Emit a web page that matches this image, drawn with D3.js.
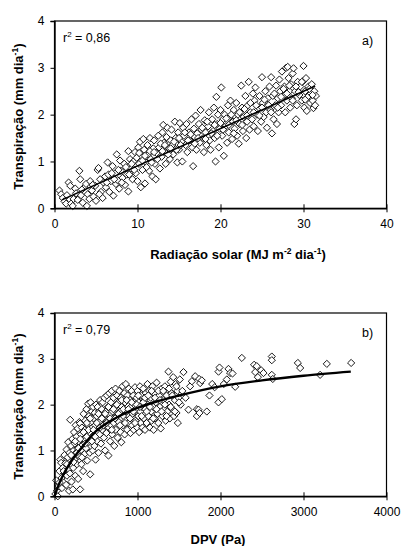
<!DOCTYPE html>
<html><head><meta charset="utf-8">
<script src="https://cdn.jsdelivr.net/npm/d3@7"></script>
<style>body{margin:0;background:#fff}svg{display:block}text{font-family:"Liberation Sans",Arial,sans-serif}</style>
</head><body>
<svg id="c" width="403" height="546"></svg>
<script>
// ---- Chart a: Radiação solar vs Transpiração
const pointsA = [
[0.6,0.38],[0.8,0.3],[1.0,0.22],[1.2,0.15],[1.4,0.1],[1.7,0.55],[1.9,0.48],[1.5,0.28],[2.0,0.1],[2.2,0.05],[2.3,0.2],[2.5,0.42],[2.6,0.32],[2.8,0.18],
[3.0,0.8],[3.1,0.62],[3.2,0.28],[3.4,0.12],[3.6,0.45],[3.8,0.52],[3.9,0.05],[4.0,0.3],[4.2,0.2],[4.3,0.58],[4.5,0.38],[4.7,0.25],[4.9,0.48],[5.0,0.16],[5.2,0.82],[5.3,0.86],[5.5,0.62],[5.6,0.35],[5.8,0.22],[5.9,0.55],
[6.1,0.68],[6.2,0.45],[6.4,0.98],[6.5,0.72],[6.6,0.35],[6.8,0.58],[7.0,0.9],[7.1,0.27],[7.3,0.75],[7.4,0.52],[7.5,1.15],[7.6,0.6],[7.8,0.42],[7.9,1.02],[8.0,0.8],[8.2,0.65],[8.4,0.95],[8.5,0.5],[8.7,0.72],[8.9,0.36],[8.9,1.22],[9.1,1.05],
[9.2,0.85],[9.4,0.62],[9.5,1.0],[9.7,1.2],[9.8,0.75],[10.0,0.58],[10.1,1.3],[10.2,0.95],[10.3,1.42],[10.4,0.45],[10.5,1.1],[10.6,0.82],[10.7,1.48],[10.8,1.25],[10.9,0.53],[11.0,0.98],[11.2,1.35],[11.3,1.15],[11.4,0.8],[11.5,1.5],[11.6,1.05],[11.8,0.68],[11.9,1.28],
[12.0,1.45],[12.1,0.95],[12.2,0.62],[12.3,1.18],[12.5,1.55],[12.6,1.3],[12.7,0.85],[12.9,1.1],[13.0,1.62],[13.1,1.78],[13.2,1.4],[13.3,1.2],[13.4,0.95],[13.5,1.52],[13.6,1.72],[13.8,1.28],[13.9,1.05],[14.0,1.45],[14.1,1.68],[14.2,1.35],[14.3,1.15],[14.5,1.85],[14.6,1.5],[14.8,0.98],[14.9,1.62],
[15.0,1.25],[15.1,1.82],[15.3,1.42],[15.4,1.0],[15.5,1.72],[15.6,1.55],[15.8,1.35],[15.9,1.8],[16.0,1.2],[16.2,1.62],[16.3,1.45],[16.5,1.9],[16.6,1.3],[16.7,0.9],[16.8,1.7],[16.9,1.52],[17.0,1.98],[17.1,1.25],[17.2,1.6],[17.4,1.8],[17.5,1.4],[17.6,2.1],[17.7,1.68],[17.9,1.5],
[18.0,1.2],[18.1,1.88],[18.2,1.62],[18.3,1.35],[18.5,1.75],[18.6,2.05],[18.7,1.45],[18.8,1.25],[19.0,1.9],[19.1,1.65],[19.2,2.15],[19.3,1.5],[19.4,1.0],[19.5,2.38],[19.6,1.8],[19.7,2.0],[19.8,1.3],[19.9,1.7],[20.0,2.1],[20.1,2.58],[20.2,1.55],[20.3,1.9],[20.4,1.12],[20.5,2.0],[20.6,1.75],[20.8,1.4],[20.9,2.2],
[21.0,1.62],[21.1,1.95],[21.2,2.3],[21.4,1.48],[21.5,1.85],[21.6,2.1],[21.7,1.7],[21.9,2.25],[22.0,1.55],[22.1,2.0],[22.2,1.38],[22.3,1.8],[22.5,2.62],[22.6,2.15],[22.7,1.65],[22.8,1.95],[23.0,2.4],[23.1,1.5],[23.2,1.85],[23.3,2.2],[23.4,2.7],[23.5,1.68],[23.6,2.05],[23.8,1.9],[23.9,2.45],
[24.0,1.75],[24.1,2.3],[24.2,2.58],[24.4,2.0],[24.5,1.65],[24.6,2.15],[24.7,2.4],[24.9,1.85],[25.0,2.8],[25.1,2.25],[25.2,1.95],[25.4,2.5],[25.5,2.05],[25.6,1.72],[25.7,2.35],[25.9,2.6],[26.0,2.1],[26.1,2.8],[26.2,1.6],[26.3,2.4],[26.4,1.9],[26.6,2.2],[26.7,2.62],[26.8,1.8],[26.9,2.35],
[27.0,2.05],[27.1,2.75],[27.2,2.5],[27.3,2.2],[27.4,2.92],[27.6,2.4],[27.7,2.6],[27.8,2.05],[27.9,3.0],[28.0,2.3],[28.1,3.02],[28.2,2.78],[28.3,2.5],[28.4,2.15],[28.5,2.65],[28.6,2.35],[28.7,2.88],[28.8,2.99],[28.9,1.8],[29.0,2.5],[29.1,1.9],[29.2,2.2],[29.3,2.7],[29.5,2.42],[29.6,2.6],[29.8,2.3],
[30.0,3.04],[30.0,2.72],[30.1,2.15],[30.2,2.5],[30.3,2.78],[30.4,2.08],[30.5,2.38],[30.6,2.6],[30.8,2.25],[30.9,2.45],[31.0,2.65],[31.1,2.3],[31.2,2.14],[31.3,2.5],[31.5,2.4],[31.4,2.2],
[3.3,0.4],[4.6,0.5],[5.4,0.3],[6.3,0.55],[6.9,0.75],[7.2,0.62],[7.7,0.82],[8.1,0.55],[8.6,0.88],[9.0,0.72],[9.3,0.95],[9.6,0.82],[9.9,1.08],[10.2,1.18],[10.6,1.02],[10.9,1.12],[11.1,0.88],[11.5,1.22],[11.7,0.98],[12.0,1.2],[12.4,1.05],[12.8,1.38],[13.0,1.22],[13.3,1.35],[13.7,1.15],[14.0,1.28],[14.4,1.42],[14.7,1.25],[15.0,1.5],[15.2,1.35],[15.7,1.62],[16.1,1.45],[16.4,1.58],[16.9,1.38],[17.3,1.5],[17.8,1.72],[18.2,1.48],[18.4,1.85],[18.9,1.6],[19.3,1.78],[19.6,1.55],[20.0,1.82],[20.3,1.68],[20.7,1.92],[21.0,1.78],[21.3,2.0],[21.6,1.6],[21.9,1.88],[22.3,2.05],[22.6,1.78],[22.9,2.12],[23.2,1.98],[23.6,2.25],[24.0,2.05],[24.3,2.2],[24.7,1.98],[25.0,2.15],[25.3,2.32],[25.8,2.2],[26.1,2.05],[26.5,2.45],[26.9,2.15],[27.3,2.38],[27.6,2.55],[28.0,2.45],[28.3,2.62],[28.7,2.3],[29.1,2.6],[29.4,2.48],[29.8,2.7],[30.2,2.32],[30.7,2.55],[31.1,2.42]
];
const fitAx = [0.9, 31.4];
const fitAy = [0.18, 2.61];
const ticksAx = [0, 10, 20, 30, 40];
const ticksY = [0, 1, 2, 3, 4];

// ---- Chart b: DPV vs Transpiração
const pointsB = [
[10,0.05],[20,0.35],[30,0.12],[40,0.0],[50,0.22],[60,0.55],[70,0.8],[80,0.73],[85,0.4],[90,0.18],[100,0.62],[110,0.3],[120,0.9],[125,0.5],[130,0.72],[140,0.25],[145,1.02],[150,0.45],
[160,0.85],[165,1.18],[170,0.58],[175,0.12],[180,0.95],[189,1.67],[195,0.7],[200,1.1],[205,0.32],[210,0.88],[215,1.25],[221,0.15],[225,0.62],[230,1.0],[235,1.4],[240,0.8],[245,1.15],[250,0.45],[255,1.55],[260,0.95],[265,1.3],[270,0.7],[275,1.05],[280,1.48],[285,0.38],[290,1.2],[295,0.88],[300,1.62],[309,0.15],[309,1.59],
[315,1.0],[320,1.35],[325,0.7],[330,1.5],[340,1.12],[345,0.55],[350,1.8],[355,1.25],[360,0.92],[365,1.45],[370,1.65],[380,1.05],[385,1.9],[390,1.3],[395,0.78],[400,1.55],[405,2.02],[410,1.18],[415,1.75],[420,1.4],[425,0.95],[430,0.48],[435,2.05],[440,1.6],[445,1.25],[450,1.85],[455,1.5],[460,1.0],[465,1.95],[470,1.7],[475,1.3],[480,1.1],[485,1.82],[490,1.55],[495,0.8],[500,2.0],
[505,1.4],[510,1.75],[515,1.2],[520,1.95],[525,1.58],[530,0.95],[540,1.85],[545,1.35],[550,2.1],[555,1.65],[560,1.15],[570,1.9],[575,1.45],[580,2.05],[590,1.75],[595,1.28],[600,2.15],[605,1.55],[610,1.0],[620,1.85],[625,1.38],[630,2.2],[640,1.65],[645,1.95],[650,0.89],[655,1.5],[660,2.25],[665,1.78],[670,1.2],[680,2.05],[685,1.55],[690,2.3],[695,1.35],[700,1.85],
[710,2.15],[715,1.6],[720,1.1],[730,1.95],[735,2.35],[740,1.45],[750,1.75],[755,2.2],[760,1.28],[770,2.05],[775,1.62],[780,2.3],[790,1.85],[795,1.4],[800,2.15],[805,1.18],[810,1.95],[820,2.4],[825,1.55],[830,1.75],[840,2.25],[845,1.35],[850,2.05],[855,1.65],[860,2.45],[870,1.85],[875,1.45],[880,2.2],[890,1.6],[895,2.35],[900,1.75],
[910,2.1],[915,1.38],[920,1.95],[930,2.3],[935,1.55],[940,1.8],[950,2.2],[955,1.45],[960,2.0],[970,2.38],[975,1.65],[980,1.9],[990,2.15],[995,1.5],[1000,2.3],[1010,1.75],[1015,2.05],[1020,1.4],[1030,2.4],[1035,1.85],[1040,1.6],[1050,2.2],[1055,1.95],[1060,1.5],[1070,2.35],[1075,1.7],[1080,2.1],[1090,1.45],[1095,1.9],[1100,2.25],
[1110,1.6],[1120,2.45],[1125,2.0],[1130,1.75],[1140,2.3],[1150,1.5],[1160,2.15],[1165,1.85],[1170,1.65],[1180,2.4],[1190,1.95],[1195,1.45],[1200,2.25],[1210,1.7],[1220,2.05],[1230,2.48],[1240,1.8],[1250,1.6],[1260,2.2],[1270,1.95],[1280,1.48],[1290,2.35],[1300,1.75],
[1310,2.1],[1320,1.9],[1330,2.4],[1340,1.65],[1350,2.2],[1360,1.85],[1373,2.72],[1380,2.0],[1390,1.7],[1400,2.5],[1410,2.25],[1420,1.9],[1430,2.6],[1440,1.75],[1450,2.1],[1460,2.45],[1470,1.82],[1480,2.3],[1486,1.6],[1495,2.15],[1510,2.55],[1520,2.0],[1540,2.3],[1554,2.71],
[1580,2.15],[1614,1.89],[1634,2.4],[1655,2.51],[1695,2.62],[1715,1.75],[1715,1.9],[1735,1.89],[1743,2.56],[1747,1.82],[1755,2.47],[1775,2.53],[1835,1.85],[1867,2.2],[1900,2.45],[1930,2.38],[1976,2.05],[1976,2.72],[1988,2.81],[2016,2.12],[2040,2.45],[2076,2.55],[2096,2.78],[2116,2.69],[2145,2.68],[2177,2.39],[2257,3.02],[2405,2.87],[2418,2.71],[2437,2.84],[2450,2.6],[2490,2.75],[2518,2.69],[2618,3.05],[2618,2.97],[2618,2.65],[2630,2.56],[2932,2.91],[2960,2.80],[3200,2.65],[3281,2.89],[3574,2.91],
[60,0.3],[110,0.55],[150,0.7],[185,0.5],[200,0.9],[230,0.75],[250,1.2],[270,0.95],[290,1.05],[310,1.25],[330,0.85],[350,1.4],[370,1.15],[390,1.6],[410,1.45],[430,1.7],[450,1.2],[470,1.45],[490,1.3],[510,1.6],[530,1.8],[550,1.5],[570,1.7],[590,1.55],[610,1.8],[630,1.6],[650,1.95],[670,1.7],[690,1.45],[710,1.9],[730,1.7],[750,2.0],[770,1.8],[790,1.55],[810,2.1],[830,1.9],[850,1.6],[870,2.1],[890,1.9],[910,1.7],[930,2.05],[950,1.85],[970,1.6],[990,2.0],[1010,2.2],[1030,1.95],[1050,1.75],[1070,2.05],[1090,2.15],[1110,1.85],[1130,2.2],[1150,1.95],[1170,2.3],[1190,1.7],[1210,2.15],[1230,1.9],[1250,2.3],[1270,2.1],[1290,1.85],[1310,2.3],[1330,2.0],[1350,1.75],[1380,2.35],[1400,1.95],[1420,2.2],[1450,1.85],[1470,2.4],[1500,2.05]
];
const fitBx = [0, 50, 100, 200, 300, 500, 750, 1000, 1250, 1500, 2000, 2500, 3000, 3570];
const fitBy = [0, 0.25, 0.45, 0.76, 1.0, 1.42, 1.72, 1.93, 2.08, 2.2, 2.4, 2.53, 2.63, 2.72];
const ticksBx = [0, 1000, 2000, 3000, 4000];

const svg = d3.select("#c");
const diamond = "M0,-3.6L3.6,0L0,3.6L-3.6,0Z";

function panel(cfg) {
  const x = d3.scaleLinear().domain(cfg.xDomain).range([54.5, 386.5]);
  const y = d3.scaleLinear().domain([0, 4]).range([cfg.y0, cfg.y1]);
  const g = svg.append("g");
  g.append("rect").attr("x", x.range()[0]).attr("y", cfg.y1)
    .attr("width", x.range()[1] - x.range()[0]).attr("height", cfg.y0 - cfg.y1)
    .attr("fill", "none").attr("stroke", "#000").attr("stroke-width", 1.2);
  g.append("g").selectAll("path").data(cfg.points).join("path")
    .attr("d", diamond)
    .attr("transform", d => `translate(${x(d[0])},${y(d[1])})`)
    .attr("fill", "#fff").attr("stroke", "#000").attr("stroke-width", 0.9);
  const line = d3.line().x(d => x(d[0])).y(d => y(d[1])).curve(d3.curveMonotoneX);
  g.append("path").datum(d3.zip(cfg.fitX, cfg.fitY)).attr("d", line)
    .attr("fill", "none").attr("stroke", "#000").attr("stroke-width", cfg.fitW);
  const ya = g.append("g").attr("transform", `translate(${x.range()[0]},0)`)
    .call(d3.axisLeft(y).tickValues(ticksY).tickSize(4).tickPadding(6).tickFormat(d3.format("d")));
  const xa = g.append("g").attr("transform", `translate(0,${cfg.y0})`)
    .call(d3.axisBottom(x).tickValues(cfg.xTicks).tickSizeInner(4).tickSizeOuter(0).tickPadding(7).tickFormat(d3.format("d")));
  xa.selectAll(".tick line").attr("y1", -4);
  [ya, xa].forEach(a => {
    a.select(".domain").attr("stroke", "#000").attr("stroke-width", 1.4);
    a.selectAll(".tick line").attr("stroke", "#000").attr("stroke-width", 1);
    a.selectAll("text").attr("font-size", 12).attr("fill", "#000")
      .style("font-family", '"Liberation Sans",Arial,sans-serif');
  });
  const r = g.append("text").attr("x", 63).attr("y", cfg.y1 + 21).attr("font-size", 12.5);
  r.append("tspan").text("r");
  r.append("tspan").attr("font-size", 8).attr("dy", -5).text("2");
  r.append("tspan").attr("dy", 5).text(" = " + cfg.r2);
  g.append("text").attr("x", 362).attr("y", cfg.y1 + 24).attr("font-size", 12.5).text(cfg.tag);
  const yt = g.append("text").attr("transform", `translate(23,${(cfg.y0 + cfg.y1) / 2 + 2}) rotate(-90)`)
    .attr("text-anchor", "middle").attr("font-size", 13).attr("font-weight", "bold");
  yt.append("tspan").text("Transpiração (mm dia");
  yt.append("tspan").attr("font-size", 8.5).attr("dy", -5).text("-1");
  yt.append("tspan").attr("dy", 5).text(")");
  const xt = g.append("text").attr("x", cfg.xTitleX).attr("y", cfg.xTitleY)
    .attr("text-anchor", "middle").attr("font-size", 13).attr("font-weight", "bold");
  cfg.xTitle.forEach(p => {
    const t = xt.append("tspan").text(p.t);
    if (p.sup) t.attr("font-size", 8.5).attr("dy", -5);
    if (p.down) t.attr("dy", 5);
  });
}

panel({
  xDomain: [0, 40], y0: 208.3, y1: 21, points: pointsA, fitX: fitAx, fitY: fitAy, fitW: 1.6,
  xTicks: ticksAx, r2: "0,86", tag: "a)", xTitleX: 238, xTitleY: 259,
  xTitle: [{t: "Radiação solar (MJ m"}, {t: "-2", sup: true}, {t: " dia", down: true}, {t: "-1", sup: true}, {t: ")", down: true}]
});
panel({
  xDomain: [0, 4000], y0: 496.3, y1: 313, points: pointsB, fitX: fitBx, fitY: fitBy, fitW: 2.4,
  xTicks: ticksBx, r2: "0,79", tag: "b)", xTitleX: 218, xTitleY: 544,
  xTitle: [{t: "DPV (Pa)"}]
});
</script>
</body></html>
